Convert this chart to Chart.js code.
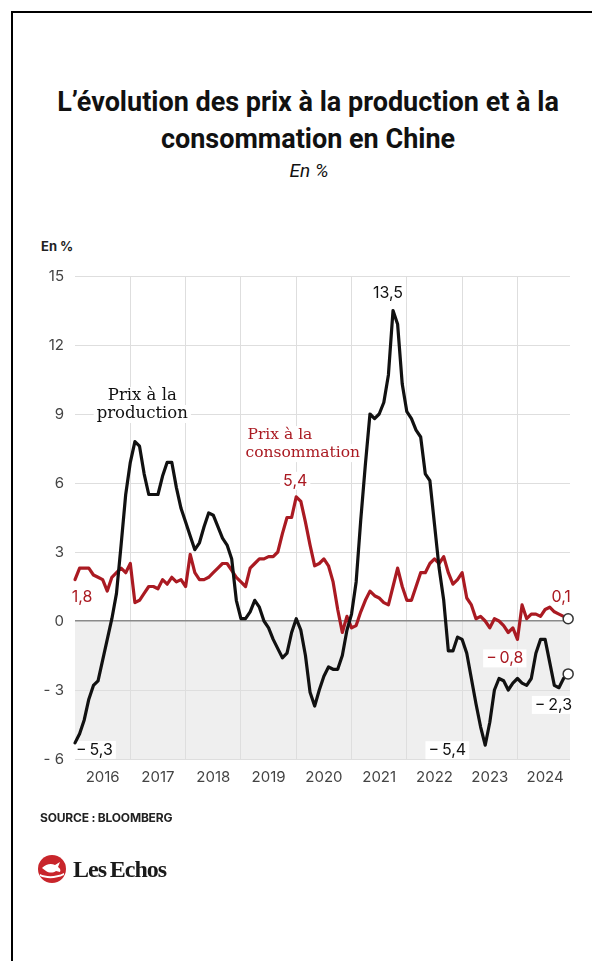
<!DOCTYPE html>
<html lang="fr">
<head>
<meta charset="utf-8">
<script src="https://cdn.jsdelivr.net/npm/chart.js@4/dist/chart.umd.min.js"></script>
<style>
    html, body { margin: 0; padding: 0; background: #fff; overflow: hidden; }
    body { width: 592px; height: 961px; position: relative; font-family: Inter, 'Noto Sans', sans-serif; }
    .frame { position: absolute; left: 11px; top: 11px; width: 700px; height: 1100px; border: 2px solid #000; }
    .title { position: absolute; left: 8px; width: 600px; top: 84px; text-align: center;
             font-family: Roboto, sans-serif; font-weight: 700; font-size: 27px; line-height: 37px; color: #111; }
    .subtitle { position: absolute; left: 12px; width: 594px; top: 159px; text-align: center;
                font-family: Roboto, sans-serif; font-style: italic; font-size: 19px; color: #111; }
    .unit { position: absolute; left: 41px; top: 238px; font-weight: 700; font-size: 13px; color: #222; }
    .source { position: absolute; left: 40px; top: 810px; font-weight: 700; font-size: 12px; color: #222; letter-spacing: -0.2px; }
    .logo { position: absolute; left: 38px; top: 854px; height: 30px; }
    .logo-mark { position: absolute; left: 0; top: 1px; width: 28px; height: 28px; border-radius: 50%; background: #c8252b; overflow: hidden; }
    .logo-text { position: absolute; left: 35px; top: 0; font-family: 'Liberation Serif', serif; font-weight: 700;
                 font-size: 24px; line-height: 30px; color: #1a1a1a; letter-spacing: -1px; white-space: nowrap; }
    #chart { position: absolute; left: 0; top: 0; }
</style>
</head>
<body>
<div class="frame"></div>
<div class="title">L’évolution des prix à la production et à la<br>consommation en Chine</div>
<div class="subtitle">En %</div>
<div class="unit">En %</div>
<canvas id="chart" width="592" height="961"></canvas>
<div class="source">SOURCE : BLOOMBERG</div>
<div class="logo">
    <div class="logo-mark">
        <svg width="28" height="28" viewBox="0 0 28 28">
            <path d="M4 13 C8 9 13 8 17 10 L22 7 L20 12 C22 13 23 15 22 17 L18 16 C15 18 11 18 8 16 Z" fill="#fff"/>
            <path d="M2 19 C8 22 18 22 26 18 L26 20 C18 24 8 24 2 21 Z" fill="#fff"/>
        </svg>
    </div>
    <div class="logo-text">Les&#8201;Echos</div>
</div>

<script>

// monthly year-on-year change, Jan 2016 -> Dec 2024
const years = [ '2016', '2017', '2018', '2019', '2020', '2021', '2022', '2023', '2024' ];

const ppi = [
    -5.3, -4.9, -4.3, -3.4, -2.8, -2.6, -1.7, -0.8, 0.1, 1.2, 3.3, 5.5,
    6.9, 7.8, 7.6, 6.4, 5.5, 5.5, 5.5, 6.3, 6.9, 6.9, 5.8, 4.9,
    4.3, 3.7, 3.1, 3.4, 4.1, 4.7, 4.6, 4.1, 3.6, 3.3, 2.7, 0.9,
    0.1, 0.1, 0.4, 0.9, 0.6, 0.0, -0.3, -0.8, -1.2, -1.6, -1.4, -0.5,
    0.1, -0.4, -1.5, -3.1, -3.7, -3.0, -2.4, -2.0, -2.1, -2.1, -1.5, -0.4,
    0.3, 1.7, 4.4, 6.8, 9.0, 8.8, 9.0, 9.5, 10.7, 13.5, 12.9, 10.3,
    9.1, 8.8, 8.3, 8.0, 6.4, 6.1, 4.2, 2.3, 0.9, -1.3, -1.3, -0.7,
    -0.8, -1.4, -2.5, -3.6, -4.6, -5.4, -4.4, -3.0, -2.5, -2.6, -3.0, -2.7,
    -2.5, -2.7, -2.8, -2.5, -1.4, -0.8, -0.8, -1.8, -2.8, -2.9, -2.5, -2.3
];

const cpi = [
    1.8, 2.3, 2.3, 2.3, 2.0, 1.9, 1.8, 1.3, 1.9, 2.1, 2.3, 2.1,
    2.5, 0.8, 0.9, 1.2, 1.5, 1.5, 1.4, 1.8, 1.6, 1.9, 1.7, 1.8,
    1.5, 2.9, 2.1, 1.8, 1.8, 1.9, 2.1, 2.3, 2.5, 2.5, 2.2, 1.9,
    1.7, 1.5, 2.3, 2.5, 2.7, 2.7, 2.8, 2.8, 3.0, 3.8, 4.5, 4.5,
    5.4, 5.2, 4.3, 3.3, 2.4, 2.5, 2.7, 2.4, 1.7, 0.5, -0.5, 0.2,
    -0.3, -0.2, 0.4, 0.9, 1.3, 1.1, 1.0, 0.8, 0.7, 1.5, 2.3, 1.5,
    0.9, 0.9, 1.5, 2.1, 2.1, 2.5, 2.7, 2.5, 2.8, 2.1, 1.6, 1.8,
    2.1, 1.0, 0.7, 0.1, 0.2, 0.0, -0.3, 0.1, 0.0, -0.2, -0.5, -0.3,
    -0.8, 0.7, 0.1, 0.3, 0.3, 0.2, 0.5, 0.6, 0.4, 0.3, 0.2, 0.1
];

const yTicks = [ -6, -3, 0, 3, 6, 9, 12, 15 ];

const RED = '#aa1a22',
      BLACK = '#111111',
      GRID = '#dedede';

/**
 * format a value the french way
 * @param {Float} v value
 * @returns label
 */
function fr( v ) {

    let s = Math.abs( v ).toFixed( 1 ).replace( '.', ',' );

    return v < 0 ? '\u2212\u2009' + s : s;

};

/**
 * find the index of min / max point
 */
function idx_max( a ) { return a.indexOf( Math.max( ...a ) ); };
function idx_min( a ) { return a.indexOf( Math.min( ...a ) ); };

// value labels: series, point index, text alignment and offset from the point
const valueLabels = [
    { s: ppi, i: idx_max( ppi ), color: BLACK, align: 'center', dx: -5, dy: -17 },
    { s: ppi, i: 0, color: BLACK, align: 'left', dx: 1, dy: 7 },
    { s: ppi, i: idx_min( ppi ), color: BLACK, align: 'right', dx: -19, dy: 5 },
    { s: ppi, i: ppi.length - 1, color: BLACK, align: 'right', dx: 4, dy: 31 },
    { s: cpi, i: idx_max( cpi ), color: RED, align: 'center', dx: -1, dy: -16 },
    { s: cpi, i: 0, color: RED, align: 'center', dx: 7, dy: 18 },
    { s: cpi, i: idx_min( cpi ), color: RED, align: 'right', dx: 6, dy: 19 },
    { s: cpi, i: cpi.length - 1, color: RED, align: 'center', dx: -7, dy: -22 }
];

// series names, anchored in data coordinates
const seriesLabels = [
    { lines: [ 'Prix à la', 'production' ], x: 14.6, y: 9, color: BLACK, align: 'center', size: 16.5 },
    { lines: [ 'Prix à la', 'consommation' ], x: 37.0, y: 7.3, color: RED, align: 'left', size: 15.5 }
];

/**
 * draw a text with a white box behind it
 */
function boxed_text( ctx, text, x, y, align, color ) {

    let w = ctx.measureText( text ).width,
        left = align === 'center' ? x - w / 2 : ( align === 'right' ? x - w : x );

    ctx.fillStyle = '#fff';
    ctx.fillRect( left - 3, y - 9, w + 6, 18 );
    ctx.fillStyle = color;
    ctx.textAlign = align;
    ctx.textBaseline = 'middle';
    ctx.fillText( text, x, y );

};

const shade = {
    id: 'shade',
    beforeDraw( chart ) {

        let { ctx, chartArea: a, scales: { y } } = chart;

        ctx.save();
        ctx.fillStyle = '#efefef';
        ctx.fillRect( a.left, y.getPixelForValue( 0 ), a.right - a.left, y.getPixelForValue( -6 ) - y.getPixelForValue( 0 ) );
        ctx.restore();

    }
};

const labels = {
    id: 'labels',
    beforeDatasetsDraw( chart ) {

        let { ctx, scales: { x, y } } = chart;

        ctx.save();

        seriesLabels.forEach( ( l ) => {
            let px = x.getPixelForValue( l.x ),
                py = y.getPixelForValue( l.y );
            ctx.font = l.size + 'px "DejaVu Serif", serif';
            boxed_text( ctx, l.lines[1], px, py, l.align, l.color );
            boxed_text( ctx, l.lines[0], px + ( l.align === 'left' ? 2 : 0 ), py - 18, l.align, l.color );
        } );

        ctx.font = '16px Inter, sans-serif';
        valueLabels.forEach( ( l ) => {
            let px = x.getPixelForValue( l.i ) + l.dx,
                py = y.getPixelForValue( l.s[ l.i ] ) + l.dy;
            boxed_text( ctx, fr( l.s[ l.i ] ), px, py, l.align, l.color );
        } );

        ctx.restore();

    }
};

function series( data, color ) {

    let last = data.length - 1;

    return {
        data: data.map( ( v, i ) => ( { x: i, y: v } ) ),
        borderColor: color,
        borderWidth: 3.2,
        tension: 0,
        clip: false,
        pointRadius: ( c ) => c.dataIndex === last ? 5 : 0,
        pointBackgroundColor: '#fff',
        pointBorderColor: '#333',
        pointBorderWidth: 1.5,
        borderJoinStyle: 'round',
        borderCapStyle: 'round'
    };

};

new Chart( document.getElementById( 'chart' ), {
    type: 'line',
    data: {
        datasets: [ series( ppi, BLACK ), series( cpi, RED ) ]
    },
    options: {
        responsive: false,
        animation: false,
        layout: {
            padding: { top: 276, right: 22, bottom: 162, left: 0 }
        },
        plugins: {
            legend: { display: false },
            tooltip: { enabled: false }
        },
        scales: {
            x: {
                type: 'linear',
                min: 0,
                max: 107.4,
                afterBuildTicks: ( s ) => {
                    s.ticks = years.flatMap( ( y, i ) => [ { value: i * 12 }, { value: i * 12 + 6 } ] );
                },
                afterFit: ( s ) => { s.height = 40; },
                border: { display: false },
                grid: {
                    drawTicks: false,
                    color: ( c ) => ( c.tick && c.tick.value % 12 === 0 && c.tick.value > 0 ) ? GRID : 'rgba(0,0,0,0)'
                },
                ticks: {
                    autoSkip: false,
                    maxRotation: 0,
                    padding: 9,
                    color: '#444',
                    font: { family: 'Inter, sans-serif', size: 15 },
                    callback: ( v ) => v % 12 === 6 ? years[ ( v - 6 ) / 12 ] : ''
                }
            },
            y: {
                min: -6,
                max: 15,
                afterBuildTicks: ( s ) => {
                    s.ticks = yTicks.map( ( v ) => ( { value: v } ) );
                },
                afterFit: ( s ) => { s.width = 75; },
                border: { display: false },
                grid: {
                    drawTicks: false,
                    color: ( c ) => c.tick && c.tick.value === 0 ? '#8a8a8a' : GRID,
                    lineWidth: ( c ) => c.tick && c.tick.value === 0 ? 1.5 : 1
                },
                ticks: {
                    padding: 11,
                    color: '#444',
                    font: { family: 'Inter, sans-serif', size: 15 },
                    callback: ( v ) => v < 0 ? '- ' + Math.abs( v ) : '' + v
                }
            }
        }
    },
    plugins: [ shade, labels ]
} );

</script>
</body>
</html>
